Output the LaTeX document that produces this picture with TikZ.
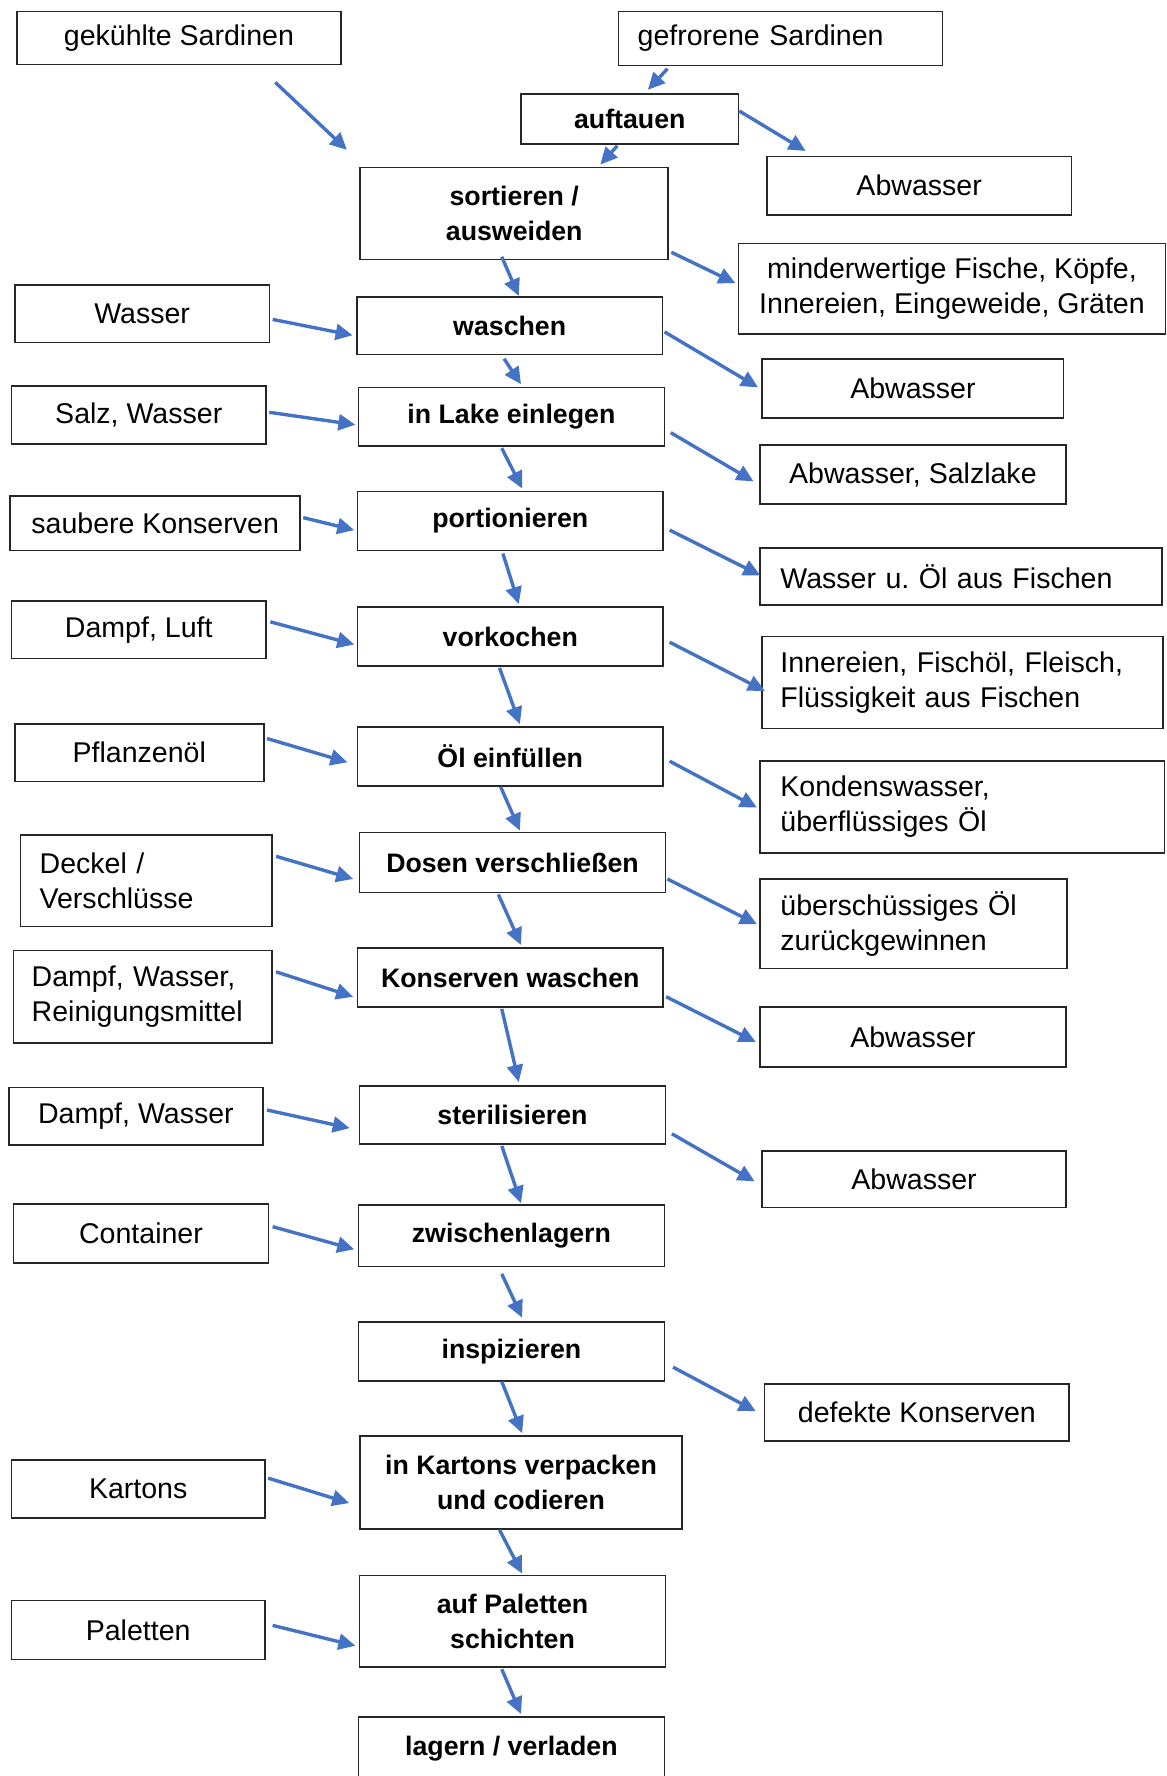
\documentclass[tikz,border=0pt]{standalone}
\usepackage{fontspec}
\setmainfont{Liberation Sans}
\usetikzlibrary{positioning,arrows.meta,calc}
\definecolor{cArrow}{HTML}{4472C4}

\begin{document}
\begin{tikzpicture}[
    x=0.5pt, y=-0.5pt,
    font=\fontsize{12.6}{15.5}\selectfont,
    box/.style={draw=black!85, line width=0.7pt, inner sep=0pt, align=center, minimum width=135pt, minimum height=26pt},
    proc/.style={box, font=\fontsize{11.8}{15.5}\selectfont\bfseries},
    inbox/.style={box, minimum width=112.5pt, minimum height=25.5pt},
    lbox/.style={box, align=left, inner xsep=8.5pt, minimum width=0pt},
    arr/.style={-{Triangle[length=7.5pt, width=7pt]}, line width=1.5pt, cArrow}
]
\clip (0,0) rectangle (1030,1568);

% Verarbeitungsschritte
\node[proc, minimum width=96pt, minimum height=22pt] (auftauen) at (556,105) {auftauen};
\node[proc, minimum width=136pt, minimum height=40.5pt] (sortieren) at (454,188.5) {sortieren /\\ausweiden};
\node[proc, minimum height=25.5pt] (waschen) at (450,287.5) {waschen};
\node[proc] (lake) at (451.5,368) {in Lake einlegen};
\node[proc] (portion) at (450.5,460) {portionieren};
\node[proc] (vorkochen) at (450.5,562) {vorkochen};
\node[proc] (oelfuell) at (450.5,668) {Öl einfüllen};
\node[proc, minimum height=26.5pt] (dosen) at (452.5,761.5) {Dosen verschließen};
\node[proc] (konswasch) at (450.5,863) {Konserven waschen};
\node[proc, minimum height=25.5pt] (steril) at (452.5,984.5) {sterilisieren};
\node[proc, minimum height=27pt] (zwischen) at (451.5,1091) {zwischenlagern};
\node[proc] (inspiz) at (451.5,1193) {inspizieren};
\node[proc, minimum width=142pt, minimum height=41pt] (verpack) at (460,1309) {in Kartons verpacken\\und codieren};
\node[proc, minimum height=40.5pt] (palett) at (452.5,1431.5) {auf Paletten\\schichten};
\node[proc, minimum height=28pt] (lagern) at (451.5,1544) {lagern / verladen};

% Eingaenge
\node[box, minimum width=143pt, minimum height=23.5pt] (gekuehlt) at (158,33.5) {gekühlte Sardinen};
\node[lbox, text width=126pt, minimum height=24pt] (gefroren) at (689,34) {gefrorene Sardinen};
\node[inbox] (inWasser) at (125.5,277) {Wasser};
\node[inbox] (inSalz) at (122.5,366.5) {Salz, Wasser};
\node[inbox, minimum width=128pt, minimum height=24pt] (inKons) at (137,462) {saubere Konserven};
\node[inbox] (inDampfLuft) at (122.5,556) {Dampf, Luft};
\node[inbox, minimum width=110pt] (inOel) at (123,664.5) {Pflanzenöl};
\node[lbox, text width=94pt, minimum height=40.5pt] (inDeckel) at (129,777.5) {Deckel /\\Verschlüsse};
\node[lbox, text width=98pt, inner xsep=8pt, minimum height=41pt] (inReinig) at (126,880) {Dampf, Wasser,\\Reinigungsmittel};
\node[inbox, minimum width=112pt] (inDampfWasser) at (120,985.5) {Dampf, Wasser};
\node[inbox, minimum height=26pt] (inContainer) at (124.5,1089) {Container};
\node[inbox, minimum width=112pt] (inKartons) at (122,1314.5) {Kartons};
\node[inbox, minimum width=112pt, minimum height=26pt] (inPaletten) at (122,1439) {Paletten};

% Ausgaenge
\node[box, minimum width=134.5pt] (outAbw1) at (811.5,164) {Abwasser};
\node[box, minimum width=188.5pt, minimum height=40pt] (outReste) at (840.5,255) {minderwertige Fische, Köpfe,\\Innereien, Eingeweide, Gräten};
\node[box, minimum width=133pt] (outAbw2) at (806,343) {Abwasser};
\node[box] (outSalzlake) at (806,419) {Abwasser, Salzlake};
\node[lbox, text width=159.5pt, inner xsep=9pt, minimum height=25pt] (outWasserOel) at (848.5,509) {Wasser u.\ Öl aus Fischen};
\node[lbox, text width=161pt, inner xsep=8pt, minimum height=40.5pt] (outInnereien) at (850,602.5) {Innereien, Fischöl, Fleisch,\\Flüssigkeit aus Fischen};
\node[lbox, text width=160.5pt, inner xsep=9pt, minimum height=40.5pt] (outKondens) at (849.5,712.5) {Kondenswasser,\\überflüssiges Öl};
\node[lbox, text width=117.5pt, inner xsep=9pt, minimum height=39.5pt] (outOel) at (806.5,815.5) {überschüssiges Öl\\zurückgewinnen};
\node[box, minimum height=26.5pt] (outAbw3) at (806,915.5) {Abwasser};
\node[box, minimum width=134pt, minimum height=25pt] (outAbw4) at (807,1041) {Abwasser};
\node[box, minimum width=134.5pt, minimum height=25pt] (outDefekt) at (809.5,1247) {defekte Konserven};

% Hauptlinie
\draw[arr] ($(gefroren.south west)+(44,2)$) -- ($(auftauen.north)+(16,-3)$);
\draw[arr] ($(auftauen.south)+(-11,1)$) -- ($(sortieren.north)+(76,-2)$);
\draw[arr] ($(gekuehlt.south)+(85,15)$) -- ($(sortieren.north west)+(-11,-15)$);
\draw[arr] ($(sortieren.south)+(-11,-3)$) -- ($(waschen.north)+(8,0)$);
\draw[arr] ($(waschen.south)+(-5,3)$) -- ($(lake.north)+(8.5,-2)$);
\draw[arr] ($(lake.south)+(-8.5,1)$) -- ($(portion.north)+(10.5,-2)$);
\draw[arr] ($(portion.south)+(-6.5,2)$) -- ($(vorkochen.north)+(7.5,-2)$);
\draw[arr] ($(vorkochen.south)+(-9.5,1)$) -- ($(oelfuell.north)+(8.5,-2)$);
\draw[arr] ($(oelfuell.south)+(-8.5,0)$) -- ($(dosen.north)+(6.5,-1)$);
\draw[arr] ($(dosen.south)+(-12.5,1)$) -- ($(konswasch.north)+(9.5,-2)$);
\draw[arr] ($(konswasch.south)+(-7.5,1)$) -- ($(steril.north)+(5.5,-3)$);
\draw[arr] ($(steril.south)+(-9.5,1)$) -- ($(zwischen.north)+(8.5,-1)$);
\draw[arr] ($(zwischen.south)+(-8.5,6)$) -- ($(inspiz.north)+(9.5,-3)$);
\draw[arr] ($(inspiz.south)+(-8.5,0)$) -- ($(verpack.north)+(1,-2)$);
\draw[arr] ($(verpack.south)+(-19,0)$) -- ($(palett.north)+(8.5,-1)$);
\draw[arr] ($(palett.south)+(-9.5,1)$) -- ($(lagern.north)+(8.5,-2)$);

% Eingaenge -> Schritte
\draw[arr] ($(inWasser.east)+(2,5)$) -- ($(waschen.west)+(-3,8.5)$);
\draw[arr] ($(inSalz.east)+(2,-2.5)$) -- ($(lake.west)+(-2,7)$);
\draw[arr] ($(inKons.east)+(2,-5)$) -- ($(portion.west)+(-2,8)$);
\draw[arr] ($(inDampfLuft.east)+(3,-7)$) -- ($(vorkochen.west)+(-2,7)$);
\draw[arr] ($(inOel.east)+(2,-12.5)$) -- ($(oelfuell.west)+(-8,5)$);
\draw[arr] ($(inDeckel.east)+(3,-21.5)$) -- ($(dosen.west)+(-5,14.5)$);
\draw[arr] ($(inReinig.east)+(3,-22)$) -- ($(konswasch.west)+(-3,17)$);
\draw[arr] ($(inDampfWasser.east)+(3,-5.5)$) -- ($(steril.west)+(-8,11.5)$);
\draw[arr] ($(inContainer.east)+(3,-6)$) -- ($(zwischen.west)+(-3,12)$);
\draw[arr] ($(inKartons.east)+(2,-9.5)$) -- ($(verpack.west)+(-9,18)$);
\draw[arr] ($(inPaletten.east)+(6,-4)$) -- ($(palett.west)+(-3,21.5)$);

% Schritte -> Ausgaenge
\draw[arr] ($(auftauen.east)+(0,-7)$) -- ($(outAbw1.north west)+(35,-4)$);
\draw[arr] ($(sortieren.south east)+(2,-7)$) -- ($(outReste.west)+(-2,-5)$);
\draw[arr] ($(waschen.east)+(1,5.5)$) -- ($(outAbw2.west)+(-3,-1)$);
\draw[arr] ($(lake.east)+(5,14)$) -- ($(outSalzlake.west)+(-5,6)$);
\draw[arr] ($(portion.east)+(5,8)$) -- ($(outWasserOel.west)+(1,-1)$);
\draw[arr] ($(vorkochen.east)+(5,5)$) -- ($(outInnereien.west)+(3,7.5)$);
\draw[arr] ($(oelfuell.east)+(5,4)$) -- ($(outKondens.west)+(-2,0.5)$);
\draw[arr] ($(dosen.east)+(1,14.5)$) -- ($(outOel.west)+(-2,0.5)$);
\draw[arr] ($(konswasch.east)+(2,17)$) -- ($(outAbw3.west)+(-3,4.5)$);
\draw[arr] ($(steril.east)+(5,16.5)$) -- ($(outAbw4.west)+(-6,2)$);
\draw[arr] ($(inspiz.east)+(7,14)$) -- ($(outDefekt.west)+(-7,-1)$);
\end{tikzpicture}
\end{document}
